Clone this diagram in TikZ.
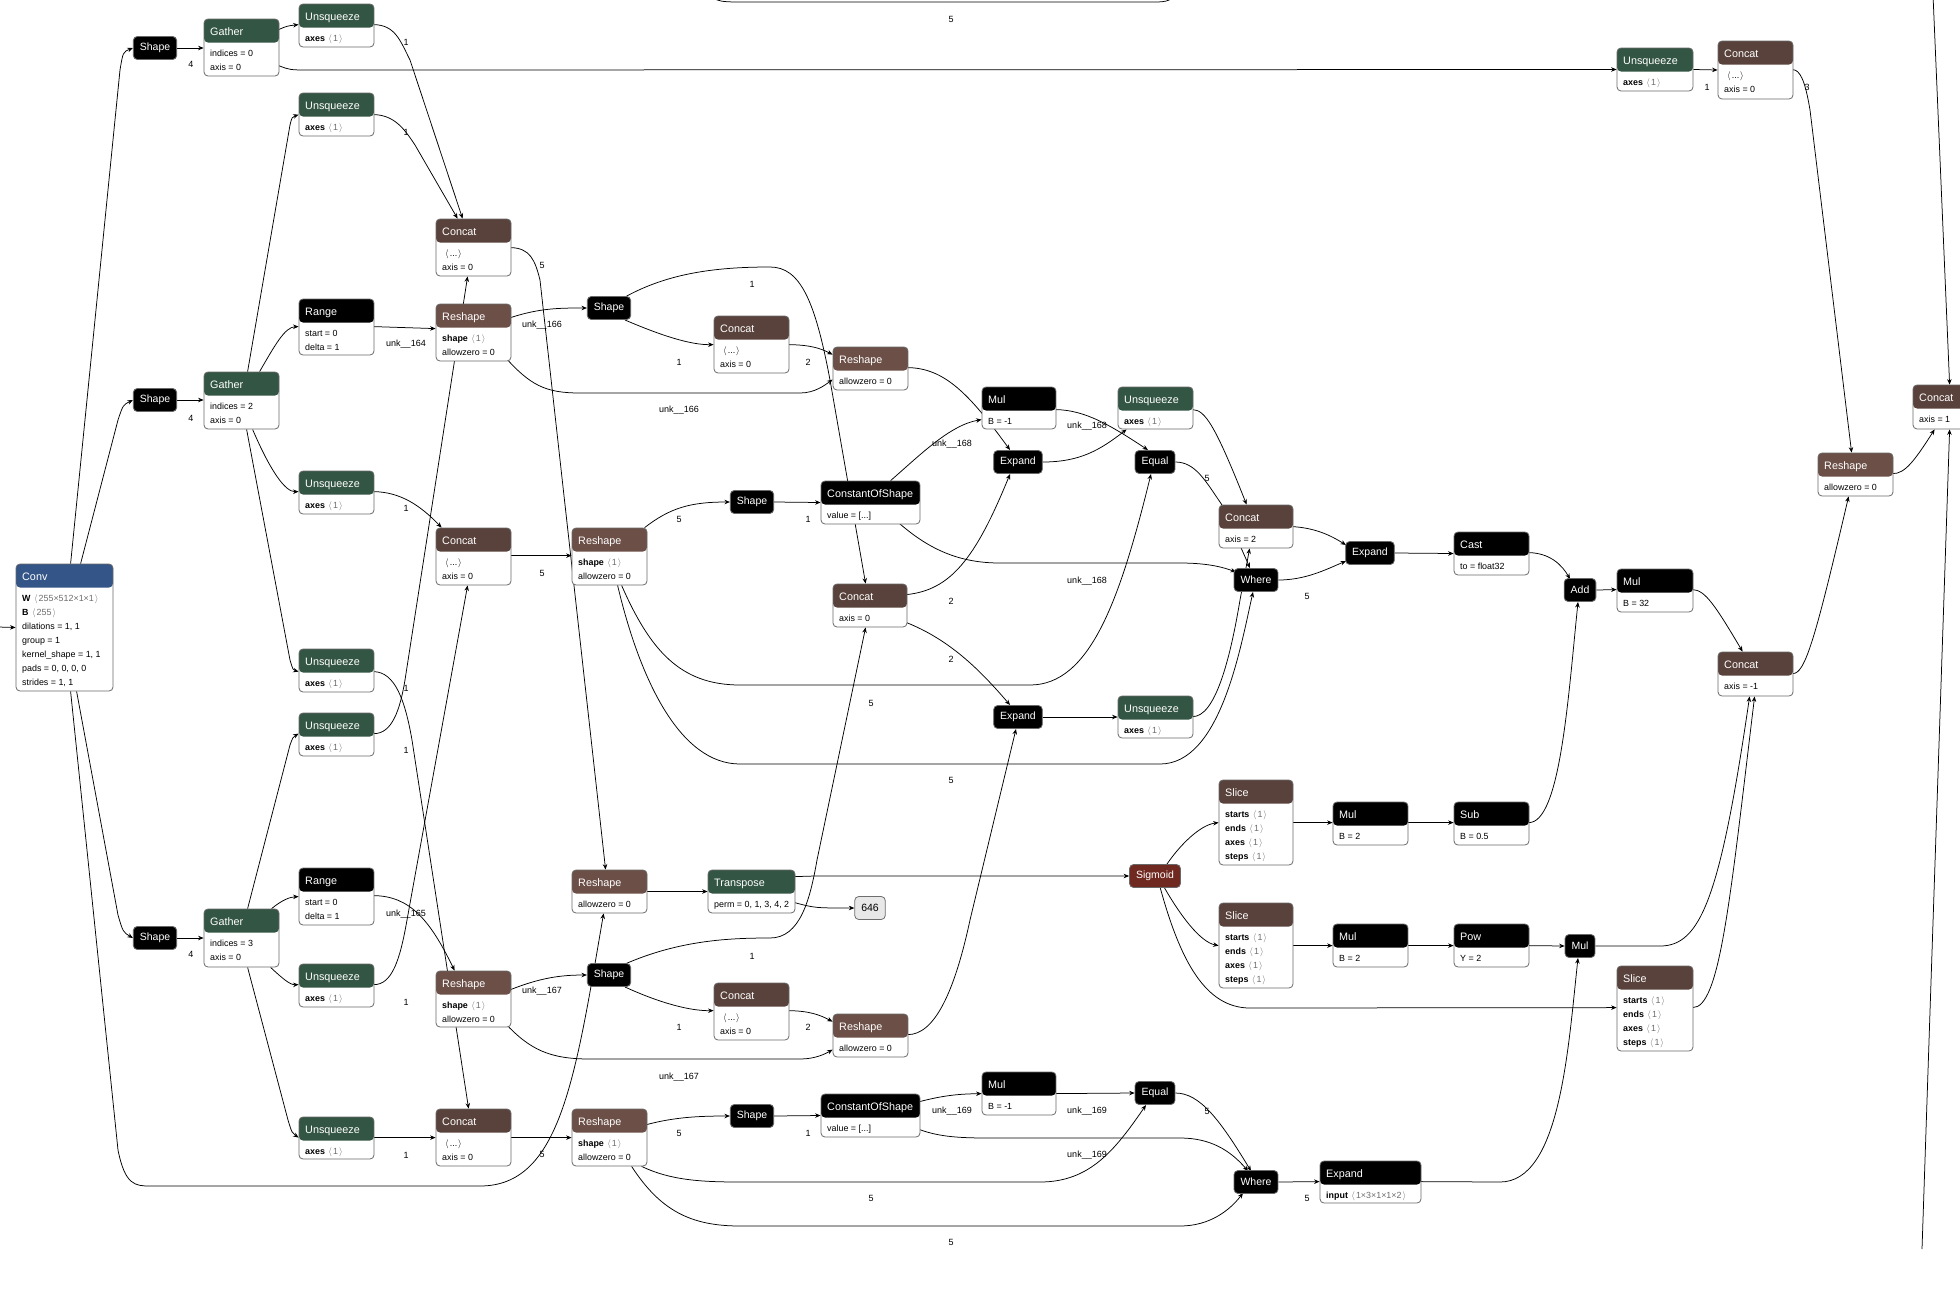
\documentclass[tikz,border=0pt]{standalone}
\usepackage{fontspec}
\setmainfont{Liberation Sans}
\usetikzlibrary{arrows.meta,calc,backgrounds}
\definecolor{cblue}{RGB}{51,85,136}
\definecolor{cgreen}{RGB}{51,85,68}
\definecolor{cshape}{RGB}{108,79,71}
\definecolor{ctensor}{RGB}{89,66,59}
\definecolor{cact}{RGB}{112,41,33}
\definecolor{cborder}{RGB}{105,105,105}
\definecolor{cout}{RGB}{232,232,232}
\definecolor{cgrey}{RGB}{110,110,110}
\newcommand\tdots{...}
\newcommand\angb[1]{\textcolor{cgrey}{\kern1pt$\langle$\kern1pt#1\kern1pt$\rangle$}}
\newcommand\angk[1]{$\langle$\kern1pt#1\kern1pt$\rangle$}
\newcommand\hn[8]{%
  \node[hdrbox, minimum width={#4pt-#2pt}, minimum height={#5pt-#3pt},
    path picture={\fill[#6] ([yshift=2pt]path picture bounding box.north west) rectangle ([yshift=-23.5pt]path picture bounding box.north east);}]
    (#1) at ({(#2+#4)/2},{(#3+#5)/2}) {};
  \node[htxt] (#1-t) at ({#2+6},{#3+16}) {#7};
  \foreach \t [count=\i] in {#8} {\node[atxt] (#1-a\i) at ({#2+6},{#3+37.5+(\i-1)*14}) {\t};}%
}
\begin{document}
\begin{tikzpicture}[x=1pt,y=-1pt,
  conn/.style={draw=black, line width=0.75pt, -{Stealth[length=5.5pt,width=4.5pt]}},
  plainline/.style={draw=black, line width=0.75pt},
  elbl/.style={font=\fontsize{9}{10}\selectfont, inner sep=0pt},
  blknode/.style={fill=black, draw=cborder, line width=0.8pt, rounded corners=4pt, text=white, font=\fontsize{10.5}{12}\selectfont, minimum height=23pt, inner xsep=6.5pt, inner ysep=0pt},
  hdrbox/.style={draw=cborder, fill=white, rounded corners=4pt, line width=0.8pt, inner sep=0pt},
  htxt/.style={text=white, font=\fontsize{10.8}{12}\selectfont, inner sep=0pt, anchor=base west},
  atxt/.style={font=\fontsize{8.9}{10}\selectfont, inner sep=0pt, anchor=base west}]
\useasboundingbox (0,0) rectangle (1960,1288);
\begin{pgfonlayer}{background}
\fill[white] (0,0) rectangle (1960,1288);
\end{pgfonlayer}

% ---------- header nodes ----------
\hn{conv}{16}{564}{113}{691}{cblue}{Conv}{{\textbf{W} \angb{255×512×1×1}},{\textbf{B} \angb{255}},{dilations = 1, 1},{group = 1},{kernel\_shape = 1, 1},{pads = 0, 0, 0, 0},{strides = 1, 1}}
\hn{gather1}{204}{19}{279}{76}{cgreen}{Gather}{{indices = 0},{axis = 0}}
\hn{gather2}{204}{372}{279}{429}{cgreen}{Gather}{{indices = 2},{axis = 0}}
\hn{gather3}{204}{909}{279}{967}{cgreen}{Gather}{{indices = 3},{axis = 0}}
\hn{unsq1}{299}{4}{374}{47}{cgreen}{Unsqueeze}{{\textbf{axes} \angb{1}}}
\hn{unsq2}{299}{93}{374}{136}{cgreen}{Unsqueeze}{{\textbf{axes} \angb{1}}}
\hn{unsq5}{299}{471}{374}{514}{cgreen}{Unsqueeze}{{\textbf{axes} \angb{1}}}
\hn{unsq6}{299}{649}{374}{692}{cgreen}{Unsqueeze}{{\textbf{axes} \angb{1}}}
\hn{unsq7}{299}{713}{374}{756}{cgreen}{Unsqueeze}{{\textbf{axes} \angb{1}}}
\hn{unsq9}{299}{964}{374}{1007}{cgreen}{Unsqueeze}{{\textbf{axes} \angb{1}}}
\hn{unsq10}{299}{1117}{374}{1159}{cgreen}{Unsqueeze}{{\textbf{axes} \angb{1}}}
\hn{range1}{299}{299}{374}{355}{black}{Range}{{start = 0},{delta = 1}}
\hn{range2}{299}{868}{374}{925}{black}{Range}{{start = 0},{delta = 1}}
\hn{concat1}{436}{219}{511}{276}{ctensor}{Concat}{{\hspace*{3pt}\angk{\tdots}},{axis = 0}}
\hn{reshape1}{436}{304}{511}{361}{cshape}{Reshape}{{\textbf{shape} \angb{1}},{allowzero = 0}}
\hn{concat6}{436}{528}{511}{585}{ctensor}{Concat}{{\hspace*{3pt}\angk{\tdots}},{axis = 0}}
\hn{reshape6}{436}{971}{511}{1027}{cshape}{Reshape}{{\textbf{shape} \angb{1}},{allowzero = 0}}
\hn{concat9}{436}{1109}{511}{1166}{ctensor}{Concat}{{\hspace*{3pt}\angk{\tdots}},{axis = 0}}
\hn{reshape4}{572}{528}{647}{585}{cshape}{Reshape}{{\textbf{shape} \angb{1}},{allowzero = 0}}
\hn{reshape5}{572}{870}{647}{913}{cshape}{Reshape}{{allowzero = 0}}
\hn{reshape7}{572}{1109}{647}{1166}{cshape}{Reshape}{{\textbf{shape} \angb{1}},{allowzero = 0}}
\hn{concat2}{714}{316}{789}{373}{ctensor}{Concat}{{\hspace*{3pt}\angk{\tdots}},{axis = 0}}
\hn{concat10}{714}{983}{789}{1040}{ctensor}{Concat}{{\hspace*{3pt}\angk{\tdots}},{axis = 0}}
\hn{reshape2}{833}{347}{908}{390}{cshape}{Reshape}{{allowzero = 0}}
\hn{reshape8}{833}{1014}{908}{1057}{cshape}{Reshape}{{allowzero = 0}}
\hn{transpose}{708}{870}{795}{913}{cgreen}{Transpose}{{perm = 0, 1, 3, 4, 2}}
\hn{cos1}{821}{481}{920}{524}{black}{ConstantOfShape}{{value = [\tdots]}}
\hn{cos2}{821}{1094}{920}{1137}{black}{ConstantOfShape}{{value = [\tdots]}}
\hn{concat3}{833}{584}{907}{627}{ctensor}{Concat}{{axis = 0}}
\hn{mul1}{982}{387}{1056}{429}{black}{Mul}{{B = -1}}
\hn{mul5}{982}{1072}{1056}{1115}{black}{Mul}{{B = -1}}
\hn{unsq3}{1118}{387}{1193}{429}{cgreen}{Unsqueeze}{{\textbf{axes} \angb{1}}}
\hn{unsq8}{1118}{696}{1193}{738}{cgreen}{Unsqueeze}{{\textbf{axes} \angb{1}}}
\hn{concat7}{1219}{505}{1293}{548}{ctensor}{Concat}{{axis = 2}}
\hn{slice1}{1219}{780}{1293}{865}{ctensor}{Slice}{{\textbf{starts} \angb{1}},{\textbf{ends} \angb{1}},{\textbf{axes} \angb{1}},{\textbf{steps} \angb{1}}}
\hn{slice2}{1219}{903}{1293}{988}{ctensor}{Slice}{{\textbf{starts} \angb{1}},{\textbf{ends} \angb{1}},{\textbf{axes} \angb{1}},{\textbf{steps} \angb{1}}}
\hn{slice3}{1617}{966}{1693}{1051}{ctensor}{Slice}{{\textbf{starts} \angb{1}},{\textbf{ends} \angb{1}},{\textbf{axes} \angb{1}},{\textbf{steps} \angb{1}}}
\hn{mul2}{1333}{802}{1408}{845}{black}{Mul}{{B = 2}}
\hn{mul4}{1333}{924}{1408}{967}{black}{Mul}{{B = 2}}
\hn{sub}{1454}{802}{1529}{845}{black}{Sub}{{B = 0.5}}
\hn{pow}{1454}{924}{1529}{967}{black}{Pow}{{Y = 2}}
\hn{cast}{1454}{532}{1529}{575}{black}{Cast}{{to = float32}}
\hn{mul3}{1617}{569}{1693}{612}{black}{Mul}{{B = 32}}
\hn{concat8}{1718}{652}{1793}{696}{ctensor}{Concat}{{axis = -1}}
\hn{reshape3}{1818}{453}{1893}{496}{cshape}{Reshape}{{allowzero = 0}}
\hn{unsq4}{1617}{48}{1693}{91}{cgreen}{Unsqueeze}{{\textbf{axes} \angb{1}}}
\hn{concat4}{1718}{41}{1793}{99}{ctensor}{Concat}{{\hspace*{3pt}\angk{\tdots}},{axis = 0}}
\hn{concat5}{1913}{385}{1990}{429}{ctensor}{Concat}{{axis = 1}}
\hn{expand4}{1320}{1161}{1421}{1203}{black}{Expand}{{\textbf{input} \angb{1×3×1×1×2}}}

% ---------- small black nodes ----------
\node[blknode] (shape1) at (155,48) {Shape};
\node[blknode] (shape2) at (155,400) {Shape};
\node[blknode] (shape6) at (155,938) {Shape};
\node[blknode] (shape3) at (609,308) {Shape};
\node[blknode] (shape4) at (752,502) {Shape};
\node[blknode] (shape5) at (609,975) {Shape};
\node[blknode] (shape7) at (752,1116) {Shape};
\node[blknode] (expand1) at (1018,462) {Expand};
\node[blknode] (expand2) at (1018,717) {Expand};
\node[blknode] (expand3) at (1370,553) {Expand};
\node[blknode] (equal1) at (1155,462) {Equal};
\node[blknode] (equal2) at (1155,1093) {Equal};
\node[blknode] (where1) at (1256,580) {Where};
\node[blknode] (where2) at (1256,1182) {Where};
\node[blknode] (add) at (1580,590) {Add};
\node[blknode] (mul6) at (1580,946) {Mul};
\node[blknode, fill=cact] (sigmoid) at (1155,876) {Sigmoid};
\node[blknode, fill=cout, text=black, draw=cgrey] (o646) at (870,908) {646};

\coordinate (inp) at (-2,627);
\coordinate (topin) at (1933,-5);
\coordinate (botin) at (1922,1249);
\coordinate (tl) at (700,-15);
\coordinate (tr) at (1185,-15);

% ---------- edges ----------
\begin{pgfonlayer}{background}
\draw[conn] (inp) -- (conv.west);
\draw[conn] ($(conv.north west)+(55,0)$) -- (120,70) .. controls (123,52) .. (shape1.west);
\draw[conn] ($(conv.north west)+(65,0)$) -- (118,420) .. controls (123,405) .. (shape2.west);
\draw[conn] ($(conv.south west)+(61,0)$) -- (118,915) .. controls (123,932) .. (shape6.west);
\draw[conn] ($(conv.south west)+(55,0)$) -- (118,1150) .. controls (125,1185) and (135,1186) .. (150,1186) -- (480,1186) .. controls (560,1186) and (575,1080) .. ($(reshape5.south west)+(32,0)$);
\draw[conn] (shape1.east) -- (gather1.west |- shape1.east);
\draw[conn] (shape2.east) -- (gather2.west |- shape2.east);
\draw[conn] (shape6.east) -- (gather3.west |- shape6.east);
\draw[conn] ($(gather1.north west)+(75,11)$) .. controls (287,26) .. ($(unsq1.north west)+(0,21)$);
\draw[conn] ($(gather1.north west)+(75,47)$) .. controls (290,70) .. (310,70) -- (unsq4.west);
\draw[conn] ($(unsq1.north west)+(75,21)$) .. controls (395,25) and (400,40) .. (410,60) -- ($(concat1.north west)+(27,0)$);
\draw[conn] ($(unsq2.north west)+(75,22)$) .. controls (395,115) and (405,130) .. (415,145) -- ($(concat1.north west)+(22,0)$);
\draw[conn] ($(gather2.north west)+(44,0)$) -- (290,125) .. controls (292,117) .. ($(unsq2.north west)+(0,22)$);
\draw[conn] ($(gather2.north west)+(56,0)$) .. controls (275,345) and (285,327) .. ($(range1.north west)+(0,28)$);
\draw[conn] ($(gather2.south west)+(49,0)$) .. controls (270,470) and (285,492) .. ($(unsq5.north west)+(0,21)$);
\draw[conn] ($(gather2.south west)+(43,0)$) -- (290,660) .. controls (293,670) .. ($(unsq6.north west)+(0,23)$);
\draw[conn] ($(range1.north west)+(75,28)$) -- ($(reshape1.north west)+(0,25)$);
\draw[conn] ($(reshape1.north west)+(75,14)$) .. controls (540,308) and (560,308) .. (shape3.west);
\draw[conn] ($(reshape1.north west)+(69,53)$) .. controls (530,385) and (545,393) .. (580,393) -- (800,393) .. controls (815,393) and (825,385) .. ($(reshape2.north west)+(0,33)$);
\draw[conn] ($(shape3)+(16,12)$) .. controls (660,335) and (690,345) .. ($(concat2.north west)+(0,29)$);
\draw[conn] ($(shape3)+(16,-11)$) .. controls (670,272) and (720,267) .. (770,267) .. controls (800,267) and (815,300) .. (830,380) -- ($(concat3.north west)+(33,0)$);
\draw[conn] ($(concat2.north west)+(75,29)$) .. controls (810,345) and (820,348) .. ($(reshape2.north west)+(0,8)$);
\draw[conn] ($(reshape2.north west)+(75,21)$) .. controls (945,368) and (970,395) .. ($(expand1)+(-8,-12)$);
\draw[conn] ($(cos1.north west)+(70,0)$) .. controls (920,455) and (950,425) .. ($(mul1.north west)+(0,33)$);
\draw[conn] ($(mul1.north west)+(74,23)$) .. controls (1085,410) and (1110,425) .. ($(equal1)+(-7,-12)$);
\draw[conn] (expand1.east) .. controls (1080,462) and (1100,450) .. ($(unsq3.south west)+(9,0)$);
\draw[conn] ($(unsq3.north west)+(75,23)$) .. controls (1205,410) and (1215,425) .. ($(concat7.north west)+(28,0)$);
\draw[conn] (equal1.east) .. controls (1195,462) and (1205,480) .. (1222,505) -- ($(where1)+(-6,-12)$);
\draw[conn] ($(cos1.north west)+(79,43)$) .. controls (930,550) and (960,563) .. (1000,563) -- (1180,563) .. controls (1210,563) and (1225,568) .. ($(where1)+(-20,-8)$);
\draw[conn] ($(concat3.north west)+(74,11)$) .. controls (950,590) and (975,560) .. ($(expand1)+(-8,12)$);
\draw[conn] ($(concat3.north west)+(74,39)$) .. controls (950,640) and (980,670) .. ($(expand2)+(-8,-12)$);
\draw[conn] ($(reshape4.south west)+(50,0)$) .. controls (650,650) and (680,685) .. (740,685) -- (1030,685) .. controls (1090,685) and (1120,600) .. ($(equal1)+(-4,12)$);
\draw[conn] ($(reshape4.south west)+(46,0)$) .. controls (640,680) and (680,764) .. (740,764) -- (1160,764) .. controls (1220,764) and (1240,650) .. ($(where1)+(-3,12)$);
\draw[conn] ($(concat6.north west)+(75,28)$) -- ($(reshape4.north west)+(0,28)$);
\draw[conn] ($(reshape4.north west)+(73,0)$) .. controls (670,508) and (690,502) .. (shape4.west);
\draw[conn] (shape4.east) -- (cos1.west);
\draw[conn] ($(concat1.north west)+(75,29)$) .. controls (530,248) and (535,260) .. (540,280) -- ($(reshape5.north west)+(34,0)$);
\draw[conn] ($(unsq5.north west)+(75,21)$) .. controls (400,492) and (420,505) .. ($(concat6.north west)+(6,0)$);
\draw[conn] ($(unsq6.north west)+(75,23)$) .. controls (395,672) and (405,700) .. (412,740) -- ($(concat9.north west)+(33,0)$);
\draw[conn] ($(unsq7.north west)+(75,21)$) .. controls (392,734) and (400,710) .. (405,680) -- ($(concat1.south west)+(32,0)$);
\draw[conn] ($(unsq9.north west)+(75,21)$) .. controls (392,985) and (400,960) .. (407,920) -- ($(concat6.south west)+(32,0)$);
\draw[conn] ($(gather3.north west)+(68,0)$) .. controls (282,900) and (290,897) .. ($(range2.north west)+(0,29)$);
\draw[conn] ($(gather3.north west)+(44,0)$) -- (290,745) .. controls (293,737) .. ($(unsq7.north west)+(0,21)$);
\draw[conn] ($(gather3.south west)+(67,0)$) .. controls (282,978) and (290,985) .. ($(unsq9.north west)+(0,21)$);
\draw[conn] ($(gather3.south west)+(44,0)$) -- (288,1120) .. controls (292,1133) .. ($(unsq10.north west)+(0,21)$);
\draw[conn] ($(range2.north west)+(75,28)$) .. controls (410,896) and (430,920) .. ($(reshape6.north west)+(19,0)$);
\draw[conn] ($(unsq10.north west)+(75,21)$) -- ($(concat9.north west)+(0,29)$);
\draw[conn] ($(reshape6.north west)+(75,19)$) .. controls (540,978) and (560,975) .. (shape5.west);
\draw[conn] ($(reshape6.north west)+(69,52)$) .. controls (530,1050) and (550,1059) .. (590,1059) -- (800,1059) .. controls (815,1059) and (825,1054) .. ($(reshape8.north west)+(0,36)$);
\draw[conn] ($(shape5)+(16,-11)$) .. controls (680,940) and (730,938) .. (770,938) .. controls (800,938) and (810,900) .. (817,860) -- ($(concat3.south west)+(33,0)$);
\draw[conn] ($(shape5)+(16,12)$) .. controls (660,1003) and (690,1011) .. ($(concat10.north west)+(0,28)$);
\draw[conn] ($(concat10.north west)+(75,28)$) .. controls (810,1011) and (820,1015) .. ($(reshape8.north west)+(0,8)$);
\draw[conn] ($(reshape8.north west)+(75,21)$) .. controls (935,1035) and (955,990) .. (970,920) -- ($(expand2)+(-2,12)$);
\draw[conn] (expand2.east) -- (unsq8.west);
\draw[conn] ($(unsq8.north west)+(75,21)$) .. controls (1215,717) and (1230,660) .. (1240,600) -- ($(concat7.south west)+(31,0)$);
\draw[conn] ($(concat7.north west)+(74,22)$) .. controls (1315,528) and (1330,535) .. ($(expand3)+(-24,-8)$);
\draw[conn] (where1.east) .. controls (1305,580) and (1325,570) .. ($(expand3)+(-24,8)$);
\draw[conn] (expand3.east) -- (cast.west);
\draw[conn] ($(cast.north west)+(75,21)$) .. controls (1550,553) and (1562,565) .. ($(add)+(-10,-11)$);
\draw[conn] (add.east) -- ($(mul3.north west)+(0,21)$);
\draw[conn] ($(mul3.north west)+(76,21)$) .. controls (1705,590) and (1715,605) .. ($(concat8.north west)+(25,0)$);
\draw[conn] ($(concat8.north west)+(75,22)$) .. controls (1805,674) and (1815,640) .. ($(reshape3.south west)+(31,0)$);
\draw[conn] ($(concat4.north west)+(75,29)$) .. controls (1800,70) and (1805,80) .. (1810,110) -- ($(reshape3.north west)+(34,0)$);
\draw[conn] ($(reshape3.north west)+(75,21)$) .. controls (1905,474) and (1915,460) .. ($(concat5.south west)+(22,0)$);
\draw[conn] (unsq4.east) -- (concat4.west);
\draw[conn] (topin) -- ($(concat5.north west)+(37,0)$);
\draw[conn] (botin) -- ($(concat5.south west)+(37,0)$);
\draw[plainline] (tl) .. controls (715,2) .. (745,2) -- (1150,2) .. controls (1170,2) .. (tr);
\draw[conn] (reshape5.east) -- (transpose.west);
\draw[conn] ($(transpose.north west)+(87,7)$) .. controls (805,876) .. (815,876) -- (sigmoid.west);
\draw[conn] ($(transpose.north west)+(87,33)$) .. controls (815,908) .. (o646.west);
\draw[conn] ($(sigmoid)+(12,-12)$) .. controls (1180,845) and (1200,825) .. ($(slice1.north west)+(0,43)$);
\draw[conn] ($(sigmoid)+(9,11)$) .. controls (1180,915) and (1200,942) .. ($(slice2.north west)+(0,43)$);
\draw[conn] ($(sigmoid)+(5,11)$) .. controls (1180,960) and (1205,1008) .. (1250,1008) -- ($(slice3.north west)+(0,42)$);
\draw[conn] ($(slice1.north west)+(74,43)$) -- ($(mul2.north west)+(0,21)$);
\draw[conn] ($(mul2.north west)+(75,21)$) -- ($(sub.north west)+(0,21)$);
\draw[conn] ($(sub.north west)+(75,21)$) .. controls (1560,823) and (1568,700) .. ($(add)+(-2,12)$);
\draw[conn] ($(slice2.north west)+(74,43)$) -- ($(mul4.north west)+(0,22)$);
\draw[conn] ($(mul4.north west)+(75,22)$) -- ($(pow.north west)+(0,22)$);
\draw[conn] ($(pow.north west)+(75,22)$) -- (mul6.west);
\draw[conn] (mul6.east) -- (1660,946) .. controls (1700,946) and (1720,900) .. ($(concat8.south west)+(32,0)$);
\draw[conn] ($(slice3.north west)+(76,42)$) .. controls (1720,1008) and (1730,900) .. ($(concat8.south west)+(37,0)$);
\draw[conn] ($(expand4.north west)+(101,21)$) -- (1500,1182) .. controls (1560,1182) and (1568,1050) .. ($(mul6)+(-2,12)$);
\draw[conn] ($(concat9.north west)+(75,29)$) -- ($(reshape7.north west)+(0,29)$);
\draw[conn] ($(reshape7.north west)+(75,16)$) .. controls (675,1117) and (700,1116) .. (shape7.west);
\draw[conn] (shape7.east) -- (cos2.west);
\draw[conn] ($(cos2.north west)+(99,8)$) .. controls (945,1095) and (960,1094) .. ($(mul5.north west)+(0,22)$);
\draw[conn] ($(cos2.north west)+(99,36)$) .. controls (940,1137) and (960,1138) .. (990,1138) -- (1180,1138) .. controls (1210,1138) and (1230,1150) .. ($(where2)+(-8,-11)$);
\draw[conn] ($(mul5.north west)+(74,22)$) -- (equal2.west);
\draw[conn] (equal2.east) .. controls (1200,1093) and (1220,1120) .. ($(where2)+(-5,-11)$);
\draw[conn] ($(reshape7.south west)+(70,0)$) .. controls (670,1180) and (700,1182) .. (740,1182) -- (1040,1182) .. controls (1090,1182) and (1115,1150) .. ($(equal2)+(-9,12)$);
\draw[conn] ($(reshape7.south west)+(60,0)$) .. controls (660,1210) and (690,1226) .. (740,1226) -- (1180,1226) .. controls (1210,1226) and (1230,1210) .. ($(where2)+(-13,11)$);
\draw[conn] (where2.east) -- ($(expand4.north west)+(0,21)$);
\end{pgfonlayer}

% ---------- edge labels ----------
\foreach \x/\y/\s [count=\k] in {191/64/4, 191/418/4, 191/954/4,
  406/42/1, 406/132/1, 406/344/unk\_\_164,
  542/265/5, 542/325/unk\_\_166, 752/284/1, 679/362/1, 808/362/2, 679/410/unk\_\_166,
  952/444/unk\_\_168, 1087/426/unk\_\_168, 1207/478/5,
  406/508/1, 406/688/1, 406/750/1,
  542/573/5, 679/519/5, 808/519/1,
  951/601/2, 951/659/2, 871/703/5, 1087/581/unk\_\_168, 1307/596/5, 951/780/5,
  1707/87/1, 1807/87/3, 951/19/5,
  406/914/unk\_\_165, 406/1002/1, 406/1155/1,
  752/956/1, 542/991/unk\_\_167, 679/1027/1, 808/1027/2, 679/1077/unk\_\_167,
  542/1154/5, 679/1133/5, 808/1133/1, 952/1111/unk\_\_169,
  871/1198/5, 951/1242/5,
  1087/1111/unk\_\_169, 1207/1111/5, 1087/1155/unk\_\_169, 1307/1198/5}
  {\node[elbl] (lab\k) at (\x,\y) {\s};}
\end{tikzpicture}
\end{document}
